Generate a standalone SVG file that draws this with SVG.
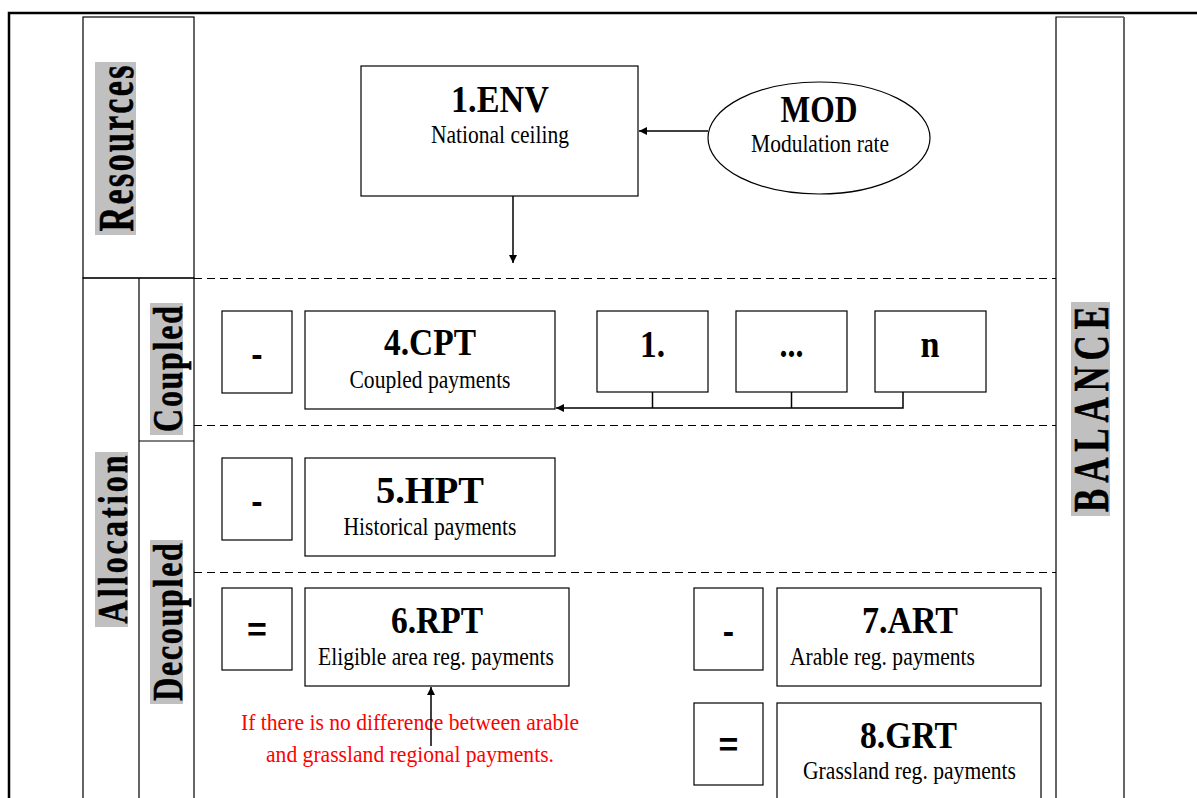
<svg xmlns="http://www.w3.org/2000/svg" width="1197" height="798" viewBox="0 0 1197 798">
  <style>
    .frame { fill: none; stroke: #000; stroke-width: 1.2; }
    .box { fill: #fff; stroke: #000; stroke-width: 1.2; }
    .dash { fill: none; stroke: #000; stroke-width: 1.2; stroke-dasharray: 8 5; }
    .wire { fill: none; stroke: #000; stroke-width: 1.5; }
    .band { fill: #c0c0c0; }
    .side { font-family: "Liberation Serif", serif; font-weight: bold; fill: #000; stroke: #000; stroke-width: 0.6; text-anchor: middle; }
    .title { font-family: "Liberation Serif", serif; font-weight: bold; font-size: 38px; fill: #000; text-anchor: middle; }
    .sub { font-family: "Liberation Serif", serif; font-size: 25px; fill: #000; text-anchor: middle; }
    .op { font-family: "Liberation Sans", sans-serif; font-weight: bold; font-size: 34px; fill: #000; text-anchor: middle; }
    .note { font-family: "Liberation Serif", serif; font-size: 24px; fill: #ff0000; text-anchor: middle; }
  </style>
  <defs>
    <marker id="arrow" viewBox="0 0 10 10" refX="10" refY="5" markerWidth="8" markerHeight="8" markerUnits="userSpaceOnUse" orient="auto">
      <path d="M0,0 L10,5 L0,10 z" fill="#000"/>
    </marker>
  </defs>

  <rect width="1197" height="798" fill="#fff"/>

  <!-- outer page frame -->
  <path d="M9,798 V13 H1197" fill="none" stroke="#000" stroke-width="2.5"/>

  <!-- left heading columns; vertical labels are condensed and letter-spaced -->
  <g id="col-resources">
    <rect class="frame" x="83" y="17" width="111" height="261"/>
    <g transform="translate(115.5,148.5) rotate(-90)">
      <rect class="band" x="-86.5" y="-20.5" width="173" height="41"/>
      <text class="side" transform="scale(0.68,1)" x="0" y="17" font-size="50" textLength="244" lengthAdjust="spacing">Resources</text>
    </g>
  </g>

  <g id="col-allocation">
    <path class="frame" d="M83,798 V278 H194 V798 M139,278 V798 M139,441 H194"/>
    <g transform="translate(111.5,539.5) rotate(-90)">
      <rect class="band" x="-87.5" y="-16.5" width="175" height="33"/>
      <text class="side" transform="scale(0.74,1)" x="0" y="15" font-size="43" textLength="227" lengthAdjust="spacing">Allocation</text>
    </g>
  </g>

  <g id="col-coupled">
    <g transform="translate(166.5,369) rotate(-90)">
      <rect class="band" x="-66" y="-16.5" width="132" height="33"/>
      <text class="side" transform="scale(0.74,1)" x="0" y="15" font-size="43" textLength="170" lengthAdjust="spacing">Coupled</text>
    </g>
  </g>

  <g id="col-decoupled">
    <g transform="translate(166.5,622) rotate(-90)">
      <rect class="band" x="-82" y="-16.5" width="164" height="33"/>
      <text class="side" transform="scale(0.74,1)" x="0" y="15" font-size="43" textLength="213" lengthAdjust="spacing">Decoupled</text>
    </g>
  </g>

  <!-- right balance column -->
  <g id="col-balance">
    <path class="frame" d="M1056,798 V17 H1124"/>
    <line x1="1124" y1="17" x2="1124" y2="798" stroke="#666" stroke-width="2"/>
    <g transform="translate(1090.5,409) rotate(-90)">
      <rect class="band" x="-107" y="-19.5" width="214" height="39"/>
      <text class="side" transform="scale(0.7,1)" x="0" y="17" font-size="50" textLength="294" lengthAdjust="spacing">BALANCE</text>
    </g>
  </g>

  <!-- section separators -->
  <g id="separators">
    <line class="dash" x1="194" y1="278.5" x2="1056" y2="278.5"/>
    <line class="dash" x1="194" y1="425.5" x2="1056" y2="425.5"/>
    <line class="dash" x1="194" y1="572.5" x2="1056" y2="572.5"/>
  </g>

  <!-- nodes -->
  <g id="env">
    <rect class="box" x="361" y="66" width="277" height="130"/>
    <text class="title" x="500" y="112" textLength="98" lengthAdjust="spacingAndGlyphs">1.ENV</text>
    <text class="sub" x="500" y="143" textLength="138" lengthAdjust="spacingAndGlyphs">National ceiling</text>
  </g>

  <g id="mod">
    <ellipse class="box" cx="819" cy="138" rx="111" ry="56"/>
    <text class="title" x="819" y="122" textLength="77" lengthAdjust="spacingAndGlyphs">MOD</text>
    <text class="sub" x="820" y="152" textLength="138" lengthAdjust="spacingAndGlyphs">Modulation rate</text>
  </g>

  <g id="op-cpt">
    <rect class="box" x="222" y="311" width="70" height="82"/>
    <text class="op" x="257" y="366">-</text>
  </g>
  <g id="cpt">
    <rect class="box" x="305" y="311" width="250" height="98"/>
    <text class="title" x="430" y="355" textLength="92" lengthAdjust="spacingAndGlyphs">4.CPT</text>
    <text class="sub" x="430" y="388" textLength="161" lengthAdjust="spacingAndGlyphs">Coupled payments</text>
  </g>
  <g id="item-1">
    <rect class="box" x="597" y="311" width="111" height="81"/>
    <text class="title" x="652.5" y="357" textLength="25" lengthAdjust="spacingAndGlyphs">1.</text>
  </g>
  <g id="item-dots">
    <rect class="box" x="736" y="311" width="111" height="81"/>
    <text class="title" x="791.5" y="357" textLength="24" lengthAdjust="spacingAndGlyphs">...</text>
  </g>
  <g id="item-n">
    <rect class="box" x="875" y="311" width="111" height="81"/>
    <text class="title" x="930" y="357" textLength="19" lengthAdjust="spacingAndGlyphs">n</text>
  </g>

  <g id="op-hpt">
    <rect class="box" x="222" y="458" width="70" height="82"/>
    <text class="op" x="257" y="513">-</text>
  </g>
  <g id="hpt">
    <rect class="box" x="305" y="458" width="250" height="98"/>
    <text class="title" x="430" y="503" textLength="108" lengthAdjust="spacingAndGlyphs">5.HPT</text>
    <text class="sub" x="430" y="535" textLength="173" lengthAdjust="spacingAndGlyphs">Historical payments</text>
  </g>

  <g id="op-rpt">
    <rect class="box" x="222" y="588" width="70" height="82"/>
    <text class="op" x="257" y="641">=</text>
  </g>
  <g id="rpt">
    <rect class="box" x="305" y="588" width="264" height="98"/>
    <text class="title" x="437" y="633" textLength="92" lengthAdjust="spacingAndGlyphs">6.RPT</text>
    <text class="sub" x="436" y="665" textLength="236" lengthAdjust="spacingAndGlyphs">Eligible area reg. payments</text>
  </g>

  <g id="op-art">
    <rect class="box" x="694" y="588" width="69" height="82"/>
    <text class="op" x="728.5" y="643">-</text>
  </g>
  <g id="art">
    <rect class="box" x="777" y="588" width="264" height="98"/>
    <text class="title" x="910" y="633" textLength="96" lengthAdjust="spacingAndGlyphs">7.ART</text>
    <text class="sub" x="882.5" y="665" textLength="185" lengthAdjust="spacingAndGlyphs">Arable reg. payments</text>
  </g>

  <g id="op-grt">
    <rect class="box" x="694" y="703" width="69" height="82"/>
    <text class="op" x="728.5" y="756">=</text>
  </g>
  <g id="grt">
    <rect class="box" x="777" y="703" width="264" height="110"/>
    <text class="title" x="908.5" y="748" textLength="97" lengthAdjust="spacingAndGlyphs">8.GRT</text>
    <text class="sub" x="909.5" y="779" textLength="213" lengthAdjust="spacingAndGlyphs">Grassland reg. payments</text>
  </g>

  <g id="note">
    <text class="note" x="410" y="730" textLength="338" lengthAdjust="spacingAndGlyphs">If there is no difference between arable</text>
    <text class="note" x="410" y="762" textLength="288" lengthAdjust="spacingAndGlyphs">and grassland regional payments.</text>
  </g>

  <!-- connectors -->
  <g id="connectors">
    <line class="wire" x1="708" y1="131" x2="639" y2="131" marker-end="url(#arrow)"/>
    <line class="wire" x1="513" y1="196" x2="513" y2="263" marker-end="url(#arrow)"/>
    <path class="wire" d="M652.5,392 V408 M791.5,392 V408 M903,392 V408 H556" marker-end="url(#arrow)"/>
    <line class="wire" x1="431" y1="746" x2="431" y2="687" marker-end="url(#arrow)"/>
  </g>
</svg>
